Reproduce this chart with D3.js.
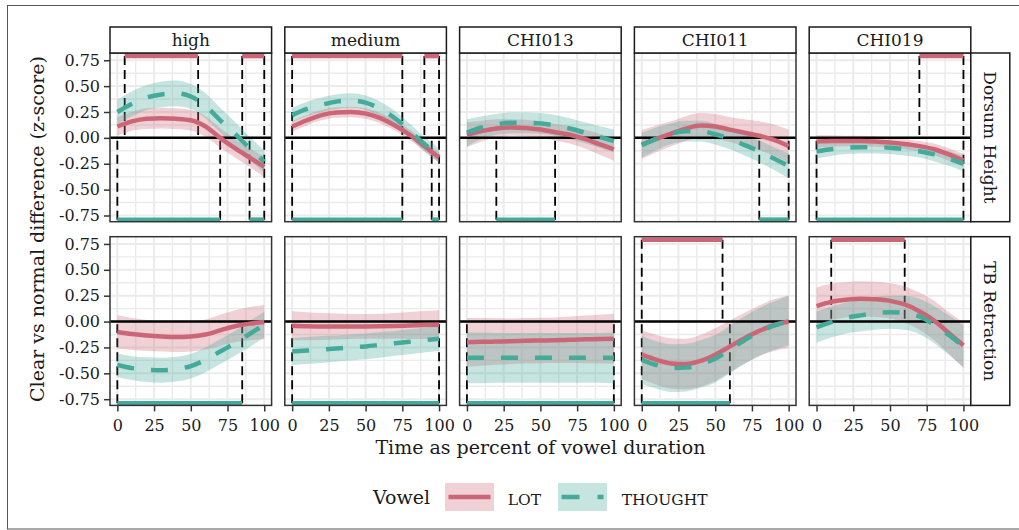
<!DOCTYPE html>
<html>
<head>
<meta charset="utf-8">
<script src="https://cdn.jsdelivr.net/npm/d3@7"></script>
<style>
  body { margin: 0; background: #fff; }
  svg text { font-family: "DejaVu Serif", serif; fill: #1a1a1a; }
</style>
</head>
<body>
<svg id="canvas" width="1019" height="530"></svg>
<script>
// time points of the smooths (percent of vowel duration)
const timePoints = [0, 10, 20, 30, 40, 50, 60, 70, 80, 90, 100];
const facetNames = ["high", "medium", "CHI013", "CHI011", "CHI019"];
const measureNames = ["Dorsum Height", "TB Retraction"];
const vowelNames = ["LOT", "THOUGHT"];
const xTicks = [0, 25, 50, 75, 100];
const yTicks = [-0.75, -0.5, -0.25, 0, 0.25, 0.5, 0.75];

// clear - normal difference, one row per facet
const lotDorsumFit = [
  [0.11, 0.16, 0.185, 0.19, 0.185, 0.17, 0.11, 0.0, -0.10, -0.19, -0.28],
  [0.11, 0.17, 0.22, 0.245, 0.25, 0.235, 0.19, 0.12, 0.03, -0.08, -0.19],
  [0.03, 0.065, 0.09, 0.10, 0.095, 0.08, 0.055, 0.03, -0.01, -0.06, -0.11],
  [-0.065, -0.01, 0.04, 0.09, 0.12, 0.11, 0.08, 0.05, 0.02, -0.02, -0.08],
  [-0.035, -0.03, -0.03, -0.03, -0.035, -0.045, -0.06, -0.08, -0.11, -0.16, -0.22]
];
const lotDorsumCI = [
  [0.09, 0.09, 0.1, 0.1, 0.1, 0.1, 0.1, 0.095, 0.09, 0.09, 0.1],
  [0.05, 0.05, 0.05, 0.05, 0.05, 0.05, 0.05, 0.05, 0.05, 0.05, 0.05],
  [0.12, 0.1, 0.09, 0.08, 0.08, 0.08, 0.08, 0.085, 0.09, 0.1, 0.11],
  [0.14, 0.13, 0.12, 0.12, 0.12, 0.12, 0.12, 0.13, 0.14, 0.15, 0.16],
  [0.06, 0.055, 0.05, 0.05, 0.05, 0.05, 0.05, 0.05, 0.055, 0.06, 0.065]
];
const thoughtDorsumFit = [
  [0.25, 0.33, 0.39, 0.42, 0.43, 0.40, 0.31, 0.17, 0.04, -0.10, -0.23],
  [0.22, 0.28, 0.32, 0.35, 0.36, 0.34, 0.28, 0.19, 0.07, -0.06, -0.17],
  [0.05, 0.10, 0.13, 0.145, 0.145, 0.14, 0.12, 0.09, 0.05, 0.01, -0.03],
  [-0.07, -0.01, 0.04, 0.065, 0.065, 0.035, -0.01, -0.07, -0.13, -0.20, -0.27],
  [-0.13, -0.11, -0.095, -0.09, -0.09, -0.095, -0.11, -0.13, -0.16, -0.20, -0.25]
];
const thoughtDorsumCI = [
  [0.12, 0.12, 0.12, 0.125, 0.125, 0.12, 0.12, 0.12, 0.115, 0.11, 0.11],
  [0.07, 0.07, 0.07, 0.07, 0.07, 0.07, 0.07, 0.07, 0.07, 0.07, 0.07],
  [0.13, 0.11, 0.1, 0.1, 0.1, 0.1, 0.1, 0.1, 0.1, 0.105, 0.11],
  [0.12, 0.11, 0.1, 0.1, 0.1, 0.1, 0.1, 0.1, 0.105, 0.11, 0.12],
  [0.07, 0.065, 0.06, 0.06, 0.06, 0.06, 0.06, 0.06, 0.065, 0.07, 0.075]
];
const lotRetractionFit = [
  [-0.10, -0.12, -0.135, -0.145, -0.15, -0.145, -0.125, -0.085, -0.045, -0.02, -0.005],
  [-0.04, -0.045, -0.047, -0.048, -0.048, -0.047, -0.045, -0.042, -0.038, -0.034, -0.03],
  [-0.20, -0.196, -0.193, -0.19, -0.186, -0.183, -0.18, -0.176, -0.172, -0.169, -0.165],
  [-0.32, -0.37, -0.405, -0.41, -0.38, -0.32, -0.24, -0.16, -0.09, -0.035, 0.0],
  [0.15, 0.19, 0.21, 0.22, 0.215, 0.20, 0.165, 0.10, 0.01, -0.11, -0.23]
];
const lotRetractionCI = [
  [0.16, 0.155, 0.15, 0.145, 0.145, 0.145, 0.145, 0.15, 0.155, 0.16, 0.165],
  [0.14, 0.135, 0.13, 0.125, 0.12, 0.12, 0.12, 0.125, 0.13, 0.135, 0.14],
  [0.235, 0.23, 0.225, 0.22, 0.22, 0.22, 0.22, 0.225, 0.23, 0.235, 0.24],
  [0.235, 0.24, 0.245, 0.245, 0.25, 0.255, 0.25, 0.245, 0.245, 0.25, 0.255],
  [0.18, 0.175, 0.17, 0.17, 0.17, 0.17, 0.175, 0.18, 0.19, 0.2, 0.22]
];
const thoughtRetractionFit = [
  [-0.42, -0.45, -0.465, -0.47, -0.46, -0.43, -0.37, -0.29, -0.21, -0.12, -0.03],
  [-0.29, -0.28, -0.27, -0.26, -0.25, -0.24, -0.225, -0.21, -0.195, -0.18, -0.165],
  [-0.35, -0.35, -0.35, -0.35, -0.35, -0.35, -0.35, -0.35, -0.35, -0.35, -0.35],
  [-0.37, -0.42, -0.45, -0.445, -0.41, -0.36, -0.27, -0.18, -0.10, -0.04, 0.01],
  [-0.055, -0.005, 0.035, 0.06, 0.08, 0.09, 0.085, 0.05, -0.03, -0.13, -0.24]
];
const thoughtRetractionCI = [
  [0.115, 0.115, 0.12, 0.12, 0.12, 0.12, 0.12, 0.12, 0.12, 0.125, 0.125],
  [0.13, 0.13, 0.13, 0.125, 0.125, 0.125, 0.125, 0.12, 0.12, 0.12, 0.12],
  [0.245, 0.245, 0.24, 0.24, 0.24, 0.24, 0.24, 0.24, 0.24, 0.24, 0.245],
  [0.23, 0.23, 0.23, 0.23, 0.23, 0.23, 0.23, 0.23, 0.23, 0.235, 0.24],
  [0.15, 0.15, 0.15, 0.155, 0.16, 0.16, 0.165, 0.17, 0.18, 0.19, 0.2]
];

// significant stretches (start, end in % of duration), one list per facet
const lotDorsumSig = [[[5, 55], [85, 100]], [[0, 75], [90, 100]], [], [], [[70, 100]]];
const thoughtDorsumSig = [[[0, 70], [90, 100]], [[0, 75], [95, 100]], [[20, 60]], [[80, 100]], [[0, 100]]];
const lotRetractionSig = [[], [], [], [[0, 55]], [[10, 60]]];
const thoughtRetractionSig = [[[0, 85]], [[0, 100]], [[0, 100]], [[0, 60]], []];

// y positions of the significance bars
const sigLevel = { LOT: 0.79, THOUGHT: -0.79 };

const svg = d3.select("#canvas");

// layout
const panelLeft = 110, panelW = 161.6, colStep = 174.8;
const rowTops = [53, 236.7], panelH = 168.7;
const stripTop = 27;
const rightStripW = 39;

const color = d3.scaleOrdinal().domain(vowelNames).range(["#CC6677", "#44AA99"]);

const tables = {
  "Dorsum Height": {
    LOT: { fit: lotDorsumFit, ci: lotDorsumCI, sig: lotDorsumSig },
    THOUGHT: { fit: thoughtDorsumFit, ci: thoughtDorsumCI, sig: thoughtDorsumSig }
  },
  "TB Retraction": {
    LOT: { fit: lotRetractionFit, ci: lotRetractionCI, sig: lotRetractionSig },
    THOUGHT: { fit: thoughtRetractionFit, ci: thoughtRetractionCI, sig: thoughtRetractionSig }
  }
};

// outer frame
svg.append("rect")
  .attr("x", 7.5).attr("y", 5.5)
  .attr("width", 1030).attr("height", 523.5)
  .attr("fill", "none").attr("stroke", "#555").attr("stroke-width", 1);

measureNames.forEach((measure, r) => {
  const top = rowTops[r];
  const yScale = d3.scaleLinear().domain([-0.81, 0.82]).range([top + panelH, top]);

  facetNames.forEach((facet, c) => {
    const left = panelLeft + c * colStep;
    const xScale = d3.scaleLinear().domain([-5, 105]).range([left, left + panelW]);
    const g = svg.append("g");

    // grid
    const xMinor = d3.range(12.5, 100, 25);
    const yMinor = [-0.625, -0.375, -0.125, 0.125, 0.375, 0.625];
    g.selectAll(".vminor").data(xMinor).join("line")
      .attr("x1", d => xScale(d)).attr("x2", d => xScale(d))
      .attr("y1", top).attr("y2", top + panelH)
      .attr("stroke", "#EBEBEB").attr("stroke-width", 1.4);
    g.selectAll(".hminor").data(yMinor).join("line")
      .attr("y1", d => yScale(d)).attr("y2", d => yScale(d))
      .attr("x1", left).attr("x2", left + panelW)
      .attr("stroke", "#EBEBEB").attr("stroke-width", 1.4);
    g.selectAll(".vmajor").data(xTicks).join("line")
      .attr("x1", d => xScale(d)).attr("x2", d => xScale(d))
      .attr("y1", top).attr("y2", top + panelH)
      .attr("stroke", "#EBEBEB").attr("stroke-width", 2);
    g.selectAll(".hmajor").data(yTicks).join("line")
      .attr("y1", d => yScale(d)).attr("y2", d => yScale(d))
      .attr("x1", left).attr("x2", left + panelW)
      .attr("stroke", "#EBEBEB").attr("stroke-width", 2);

    // dashed boundaries of significant stretches, from bar to zero
    vowelNames.forEach(v => {
      const sig = tables[measure][v].sig[c];
      const edges = sig.flat();
      g.selectAll(null).data(edges).join("line")
        .attr("x1", d => xScale(d)).attr("x2", d => xScale(d))
        .attr("y1", yScale(sigLevel[v])).attr("y2", yScale(0))
        .attr("stroke", "#000").attr("stroke-width", 1.8)
        .attr("stroke-dasharray", "9,5");
    });

    // ribbons
    vowelNames.forEach(v => {
      const t = tables[measure][v];
      const pts = timePoints.map((x, i) => ({ x, fit: t.fit[c][i], ci: t.ci[c][i] }));
      const area = d3.area()
        .x(d => xScale(d.x))
        .y0(d => yScale(d.fit - d.ci))
        .y1(d => yScale(d.fit + d.ci))
        .curve(d3.curveMonotoneX);
      g.append("path").attr("d", area(pts))
        .attr("fill", color(v)).attr("fill-opacity", 0.3);
    });

    // zero line
    g.append("line")
      .attr("x1", left).attr("x2", left + panelW)
      .attr("y1", yScale(0)).attr("y2", yScale(0))
      .attr("stroke", "#000").attr("stroke-width", 2.5);

    // smooths
    vowelNames.forEach(v => {
      const t = tables[measure][v];
      const pts = timePoints.map((x, i) => ({ x, fit: t.fit[c][i] }));
      const line = d3.line()
        .x(d => xScale(d.x))
        .y(d => yScale(d.fit))
        .curve(d3.curveMonotoneX);
      g.append("path").attr("d", line(pts))
        .attr("fill", "none").attr("stroke", color(v))
        .attr("stroke-width", 4.5)
        .attr("stroke-dasharray", v === "THOUGHT" ? "17,17" : null);
    });

    // significance bars
    vowelNames.forEach(v => {
      const sig = tables[measure][v].sig[c];
      g.selectAll(null).data(sig).join("line")
        .attr("x1", d => xScale(d[0])).attr("x2", d => xScale(d[1]))
        .attr("y1", yScale(sigLevel[v])).attr("y2", yScale(sigLevel[v]))
        .attr("stroke", color(v)).attr("stroke-width", 4.5);
    });

    // panel border
    g.append("rect")
      .attr("x", left).attr("y", top).attr("width", panelW).attr("height", panelH)
      .attr("fill", "none").attr("stroke", "#333").attr("stroke-width", 1.5);

    // top strip
    if (r === 0) {
      g.append("rect")
        .attr("x", left).attr("y", stripTop).attr("width", panelW).attr("height", top - stripTop)
        .attr("fill", "#fff").attr("stroke", "#1a1a1a").attr("stroke-width", 1.5);
      g.append("text")
        .attr("x", left + panelW / 2).attr("y", (stripTop + top) / 2)
        .attr("text-anchor", "middle").attr("dominant-baseline", "central")
        .attr("font-size", 17)
        .text(facet);
    }

    // axes
    if (c === 0) {
      const ax = svg.append("g")
        .attr("transform", `translate(${left},0)`)
        .call(d3.axisLeft(yScale).tickValues(yTicks).tickFormat(d => d.toFixed(2))
          .tickSize(6).tickPadding(4));
      ax.select(".domain").remove();
      ax.selectAll("line").attr("stroke", "#333").attr("stroke-width", 1.5);
      ax.selectAll("text").attr("font-size", 16).attr("fill", "#1a1a1a")
        .attr("font-family", "DejaVu Serif, serif");
    }
    if (r === measureNames.length - 1) {
      const ax = svg.append("g")
        .attr("transform", `translate(0,${top + panelH})`)
        .call(d3.axisBottom(xScale).tickValues(xTicks).tickSize(6).tickPadding(8));
      ax.select(".domain").remove();
      ax.selectAll("line").attr("stroke", "#333").attr("stroke-width", 1.5);
      ax.selectAll("text").attr("font-size", 16).attr("fill", "#1a1a1a")
        .attr("font-family", "DejaVu Serif, serif");
    }
  });

  // right strip
  const sx = panelLeft + (facetNames.length - 1) * colStep + panelW;
  svg.append("rect")
    .attr("x", sx).attr("y", top).attr("width", rightStripW).attr("height", panelH)
    .attr("fill", "#fff").attr("stroke", "#1a1a1a").attr("stroke-width", 1.5);
  const cx = sx + rightStripW / 2, cy = top + panelH / 2;
  svg.append("text")
    .attr("x", cx).attr("y", cy)
    .attr("transform", `rotate(90,${cx},${cy})`)
    .attr("text-anchor", "middle").attr("dominant-baseline", "central")
    .attr("font-size", 17)
    .text(measure);
});

// axis titles
svg.append("text")
  .attr("x", panelLeft + (colStep * 4 + panelW) / 2).attr("y", 454)
  .attr("text-anchor", "middle").attr("font-size", 19)
  .text("Time as percent of vowel duration");

svg.append("text")
  .attr("x", 44).attr("y", 229)
  .attr("transform", "rotate(-90,44,229)")
  .attr("text-anchor", "middle").attr("font-size", 19)
  .text("Clear vs normal difference (z-score)");

// legend
const legend = svg.append("g");
legend.append("text").attr("x", 373).attr("y", 504).attr("font-size", 19).text("Vowel");
const keyX = [445, 558];
const labelX = [507.7, 621.7];
vowelNames.forEach((v, i) => {
  legend.append("rect")
    .attr("x", keyX[i]).attr("y", 483).attr("width", 49).attr("height", 28)
    .attr("fill", color(v)).attr("fill-opacity", 0.3);
  legend.append("line")
    .attr("x1", keyX[i] + 3.5).attr("x2", keyX[i] + 45.5)
    .attr("y1", 497).attr("y2", 497)
    .attr("stroke", color(v)).attr("stroke-width", 4.5)
    .attr("stroke-dasharray", v === "THOUGHT" ? "18,18" : null);
  legend.append("text")
    .attr("x", labelX[i]).attr("y", 505).attr("font-size", 15.5)
    .text(v);
});
</script>
</body>
</html>
